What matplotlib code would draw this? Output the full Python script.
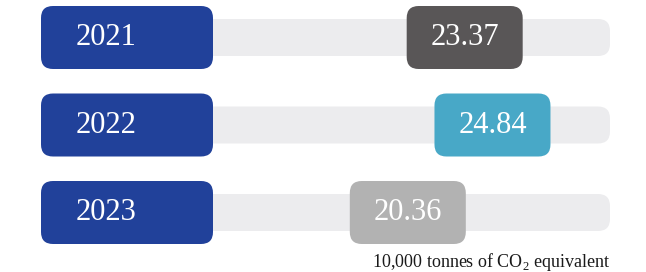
import matplotlib
matplotlib.use("Agg")
import matplotlib.pyplot as plt
from matplotlib.patches import FancyBboxPatch

years = ["2021", "2022", "2023"]
values = [23.37, 24.84, 20.36]
value_colors = ["#595657", "#48a8c7", "#b2b2b2"]
unit_label = "10,000 tonnes of CO$_2$ equivalent"

plt.rcParams['font.family'] = ['Liberation Serif', 'DejaVu Serif']
plt.rcParams['mathtext.fontset'] = 'custom'
plt.rcParams['mathtext.rm'] = 'Liberation Serif'

W, H = 646, 272
S = 18.9          # pixels per data unit
X0 = 81           # pixel position of value 0

def u(px):        # pixel length -> data units
    return px / S

fig = plt.figure(figsize=(W / 100, H / 100), dpi=100)
ax = fig.add_axes([0, 0, 1, 1])
ax.set_xlim(-X0 / S, (W - X0) / S)
ax.set_ylim(H / S, 0)
ax.axis("off")

blue = "#21419a"
track = "#ececee"
box_h = u(63)
track_h = u(37)
rad = u(12)
blue_left = u(41 - X0)
blue_right = u(213 - X0)
track_right = u(610 - X0)
val_w = u(116)

for i, (yr, v, c) in enumerate(zip(years, values, value_colors)):
    yc = u(37.5 + 87.5 * i)
    # track
    ax.add_patch(FancyBboxPatch((blue_right - u(30), yc - track_h / 2),
                                track_right - blue_right + u(30), track_h,
                                boxstyle=f"round,pad=0,rounding_size={rad}",
                                fc=track, ec="none", zorder=1))
    # year box
    ax.add_patch(FancyBboxPatch((blue_left, yc - box_h / 2),
                                blue_right - blue_left, box_h,
                                boxstyle=f"round,pad=0,rounding_size={rad}",
                                fc=blue, ec="none", zorder=2))
    ax.text(blue_left + u(65), yc, yr, color="white", fontsize=22,
            ha="center", va="center", zorder=3)
    # value box
    ax.add_patch(FancyBboxPatch((v - val_w, yc - box_h / 2), val_w, box_h,
                                boxstyle=f"round,pad=0,rounding_size={rad}",
                                fc=c, ec="none", zorder=2))
    ax.text(v - val_w / 2, yc, f"{v:.2f}", color="white", fontsize=22,
            ha="center", va="center", zorder=3)

ax.text(track_right, u(262), unit_label, fontsize=13, ha="right",
        va="center", color="#1a1a1a")

fig.savefig("out.png", dpi=100)
